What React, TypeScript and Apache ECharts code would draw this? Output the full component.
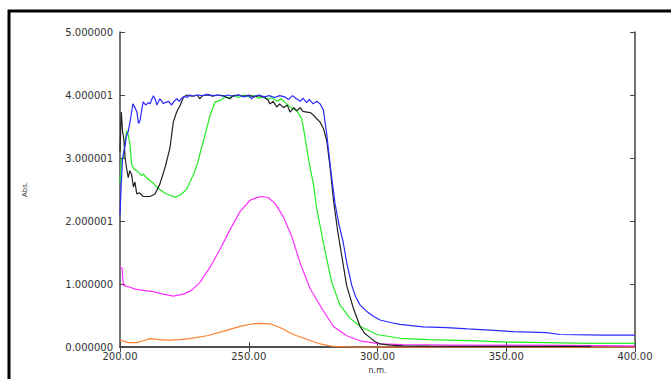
import React, { useEffect, useRef } from "react";
import * as echarts from "echarts";

const xTickLabels = ["200.00", "250.00", "300.00", "350.00", "400.00"];
const yTickLabels = ["0.000000", "1.000000", "2.000001", "3.000001", "4.000001", "5.000000"];

const blueX = [200, 200.5, 201, 201.5, 202, 202.5, 203.2, 204, 205, 205.8, 206.5, 207.2, 207.8, 208.5, 209, 210, 211, 211.7, 212.5, 213, 213.8, 214.3, 215, 215.5, 216.3, 216.8, 217.5, 218.8, 219.5, 220, 221, 222, 223, 224, 225, 226, 227.2, 228.5, 230, 232, 234, 236, 238, 240, 242, 244, 246, 248, 250, 251.1, 252, 254, 256, 258, 260, 262, 264, 265.5, 267, 268.5, 270, 271, 272.5, 273.5, 275, 276.5, 277.7, 279, 280.3, 281.6, 282.2, 283.5, 285, 286.7, 288, 290, 291.5, 293.2, 296, 298.4, 301, 305, 308.7, 317.8, 326.9, 335, 343.7, 352.7, 365.7, 370.9, 387.6, 400];
const blueY = [2.1, 2.6, 3.0, 3.1, 3.2, 3.35, 3.42, 3.6, 3.86, 3.8, 3.74, 3.55, 3.6, 3.78, 3.89, 3.84, 3.88, 3.86, 3.95, 3.99, 3.92, 3.84, 3.9, 3.94, 3.9, 3.86, 3.88, 3.9, 3.87, 3.84, 3.9, 3.94, 3.9, 3.95, 3.98, 3.96, 4.0, 3.98, 4.0, 3.99, 4.01, 3.99, 4.0, 3.98, 4.0, 3.98, 4.0, 3.97, 3.99, 3.94, 3.98, 4.0, 3.97, 3.99, 3.96, 3.99, 3.97, 3.93, 3.99, 3.94, 3.9, 3.95, 3.88, 3.93, 3.86, 3.9, 3.86, 3.76, 3.37, 2.9, 2.69, 2.28, 1.95, 1.66, 1.35, 0.98, 0.8, 0.67, 0.56, 0.49, 0.43, 0.39, 0.36, 0.32, 0.31, 0.29, 0.27, 0.245, 0.23, 0.2, 0.19, 0.19];

const blackX = [200, 200.5, 201, 201.5, 202, 202.5, 203.2, 203.8, 204.5, 205.2, 205.8, 206.5, 207.5, 209, 211.7, 213.6, 215.5, 217.5, 219.4, 220.7, 222, 223.3, 224.6, 226, 228, 230, 231, 232, 234, 236, 238, 240, 242.7, 244, 246, 248, 250, 252, 254, 256, 257.5, 258.3, 259.5, 260.9, 262, 263.5, 265, 266, 267.5, 268.6, 270, 271, 272.5, 274, 275.1, 276.5, 277.7, 279, 280.3, 281.6, 283, 284.5, 286.1, 288, 290.6, 293.2, 295, 297.1, 299, 301, 305, 310, 320, 340, 360, 383];
const blackY = [3.1, 3.73, 3.42, 3.3, 3.0, 2.85, 2.69, 2.8, 2.74, 2.54, 2.62, 2.43, 2.45, 2.39, 2.39, 2.43, 2.59, 2.85, 3.16, 3.57, 3.73, 3.83, 3.96, 4.0, 3.98, 4.0, 3.94, 3.99, 4.0, 3.98, 4.0, 3.99, 3.94, 3.99, 4.0, 3.98, 4.0, 3.97, 3.99, 3.96, 3.92, 3.86, 3.9, 3.81, 3.86, 3.8, 3.84, 3.73, 3.8, 3.75, 3.8, 3.74, 3.73, 3.72, 3.68, 3.62, 3.57, 3.47, 3.27, 2.85, 2.3, 1.85, 1.45, 0.98, 0.62, 0.33, 0.22, 0.15, 0.09, 0.05, 0.03, 0.02, 0.015, 0.01, 0.01, 0.01];

const greenX = [200, 200.5, 201.3, 202, 202.6, 203.3, 203.9, 204.5, 205.5, 206.5, 207.5, 208.4, 209, 210, 211.7, 213, 214.3, 215.5, 216.8, 218, 219.4, 221.4, 223.3, 225, 225.9, 227.2, 228.5, 230, 231, 232.4, 233.7, 235, 236.9, 238.8, 240.8, 242, 244, 246, 248, 250, 252, 254, 256, 257.5, 259, 261, 262.5, 264.7, 266.5, 268.6, 270.5, 271.5, 272.5, 273.8, 275.1, 276.4, 279, 282.2, 285.4, 289.3, 293.2, 299.7, 308.7, 320, 338.5, 350, 365.7, 383, 400];
const greenY = [2.6, 2.98, 3.0, 3.25, 3.44, 3.35, 3.21, 2.9, 2.82, 2.8, 2.76, 2.72, 2.75, 2.7, 2.64, 2.6, 2.54, 2.5, 2.46, 2.43, 2.41, 2.38, 2.41, 2.47, 2.51, 2.62, 2.74, 2.9, 3.06, 3.27, 3.47, 3.68, 3.89, 3.91, 3.97, 3.95, 3.99, 3.96, 4.0, 3.97, 3.99, 3.95, 3.98, 3.93, 3.96, 3.9, 3.94, 3.86, 3.8, 3.75, 3.63, 3.42, 3.16, 2.85, 2.59, 2.2, 1.65, 1.03, 0.67, 0.46, 0.33, 0.2, 0.14, 0.12, 0.1, 0.08, 0.07, 0.06, 0.06];

const magentaX = [200, 200.8, 201.3, 203.9, 206, 209, 212.9, 216.8, 220.7, 224.6, 227.8, 231.1, 235, 238.8, 242.7, 246.6, 250.5, 253.7, 255.5, 257.6, 260.2, 263.4, 266.7, 269.9, 273.8, 278.3, 282.8, 288, 293.2, 301, 310, 330, 360, 400];
const magentaY = [1.27, 1.25, 0.98, 0.95, 0.92, 0.9, 0.88, 0.84, 0.81, 0.84, 0.9, 1.03, 1.27, 1.55, 1.86, 2.15, 2.33, 2.38, 2.39, 2.37, 2.28, 2.07, 1.76, 1.34, 0.93, 0.62, 0.33, 0.18, 0.1, 0.05, 0.04, 0.03, 0.03, 0.02];

const orangeX = [200, 201.5, 203.2, 206.5, 209, 211.7, 215, 218.8, 223, 227.2, 233.7, 240.1, 246.6, 251.8, 254.4, 258.3, 262.1, 267.3, 272.5, 277.7, 282.8, 290, 400];
const orangeY = [0.12, 0.09, 0.07, 0.07, 0.1, 0.135, 0.12, 0.11, 0.12, 0.135, 0.18, 0.25, 0.33, 0.37, 0.375, 0.37, 0.31, 0.2, 0.125, 0.05, 0.01, 0.0, 0.0];

const zip = (xs: number[], ys: number[]) => xs.map((x, i) => [x, ys[i]]);

const labelFont = { color: "#333", fontSize: 10, fontFamily: "DejaVu Sans" };

export default function App() {
  const ref = useRef<HTMLDivElement>(null);
  useEffect(() => {
    if (!ref.current) return;
    const chart = echarts.init(ref.current, undefined, { renderer: "svg" });
    const line = (name: string, xs: number[], ys: number[], color: string) => ({
      name,
      type: "line",
      data: zip(xs, ys),
      showSymbol: false,
      symbol: "none",
      lineStyle: { color, width: 1.2 },
      itemStyle: { color },
      xAxisIndex: 0,
      yAxisIndex: 0,
    });
    chart.setOption({
      animation: false,
      backgroundColor: "#fff",
      grid: { left: 120, top: 32, right: 36, bottom: 26, show: false },
      graphic: [
        {
          type: "rect",
          shape: { x: 9, y: 11, width: 800, height: 800 },
          style: { fill: "none", stroke: "#000", lineWidth: 3 },
          silent: true,
        },
      ],
      xAxis: [
        {
          type: "value",
          min: 200,
          max: 400,
          interval: 50,
          position: "bottom",
          name: "n.m.",
          nameLocation: "middle",
          nameGap: 15,
          nameTextStyle: { color: "#333", fontSize: 8, fontFamily: "DejaVu Sans" },
          axisLine: { show: true, lineStyle: { color: "#444", width: 1.5 } },
          axisTick: { show: true, inside: true, length: 5, lineStyle: { color: "#444" } },
          axisLabel: {
            ...labelFont,
            margin: 4,
            formatter: (v: number) => xTickLabels[Math.round((v - 200) / 50)] ?? "",
          },
          splitLine: { show: false },
        },
        {
          type: "value",
          min: 200,
          max: 400,
          interval: 50,
          position: "top",
          axisLine: { show: true, lineStyle: { color: "#444", width: 1.5 } },
          axisTick: { show: true, inside: true, length: 5, lineStyle: { color: "#444" } },
          axisLabel: { show: false },
          splitLine: { show: false },
        },
      ],
      yAxis: [
        {
          type: "value",
          min: 0,
          max: 5,
          interval: 1,
          position: "left",
          name: "Abs.",
          nameLocation: "middle",
          nameGap: 92,
          nameTextStyle: { color: "#333", fontSize: 7, fontFamily: "DejaVu Sans" },
          axisLine: { show: true, lineStyle: { color: "#444", width: 1.5 } },
          axisTick: { show: true, inside: true, length: 5, lineStyle: { color: "#444" } },
          axisLabel: {
            ...labelFont,
            margin: 7,
            formatter: (v: number) => yTickLabels[Math.round(v)] ?? "",
          },
          splitLine: { show: false },
        },
        {
          type: "value",
          min: 0,
          max: 5,
          interval: 1,
          position: "right",
          axisLine: { show: true, lineStyle: { color: "#444", width: 1.5 } },
          axisTick: { show: true, inside: true, length: 5, lineStyle: { color: "#444" } },
          axisLabel: { show: false },
          splitLine: { show: false },
        },
      ],
      series: [
        line("orange", orangeX, orangeY, "#ff8030"),
        line("magenta", magentaX, magentaY, "#ff30ff"),
        line("green", greenX, greenY, "#22ee22"),
        line("black", blackX, blackY, "#222222"),
        line("blue", blueX, blueY, "#2a2aff"),
      ],
    });
    return () => chart.dispose();
  }, []);
  return (
    <div
      ref={ref}
      style={{ position: "absolute", left: 0, top: 0, width: 671, height: 379 }}
    />
  );
}
